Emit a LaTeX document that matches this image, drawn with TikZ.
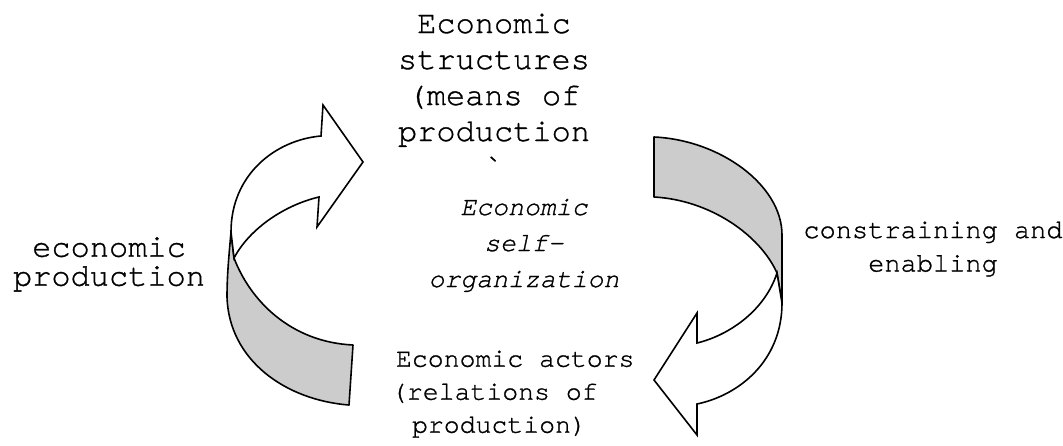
\documentclass[tikz,border=0pt]{standalone}
\usepackage{fontspec}
\setmonofont{texgyrecursor}[Extension=.otf, UprightFont=*-regular, ItalicFont=*-italic, BoldFont=*-bold, FakeBold=1]
\newcommand\clines[2]{\vtop{\baselineskip=#1\lineskiplimit=-100pt\lineskip=0pt\halign{\hfil##\hfil\cr#2\crcr}}}
\newcommand\llines[2]{\vtop{\baselineskip=#1\lineskiplimit=-100pt\lineskip=0pt\halign{##\hfil\cr#2\crcr}}}
\tikzset{
  band/.style={draw=black, fill=gray!40, line width=1.6pt, line join=round},
  bigarrow/.style={draw=black, fill=white, line width=1.6pt, line join=miter},
  lbl/.style={inner sep=0pt, outer sep=0pt, font=\ttfamily},
}
\begin{document}
\begin{tikzpicture}[x=1pt,y=-1pt]
\useasboundingbox (0,0) rectangle (1063,445);

% left curved arrow: shaded band, then white arrow on top
\draw[band] (231,232) .. controls (229,255) and (227,275) .. (227,297)
  .. controls (229,360) and (285,400) .. (349,405) -- (353,345)
  .. controls (290,342) and (250,300) .. (234,258) -- cycle;
\draw[bigarrow] (231,232) .. controls (231,175) and (275,140) .. (321,136)
  -- (323,105) -- (363,162) -- (317,227) -- (319,197)
  .. controls (285,205) and (250,228) .. (234,258) -- cycle;

% right curved arrow
\draw[band] (654,137) .. controls (720,140) and (782,185) .. (782,235)
  -- (782,303) -- (777,273)
  .. controls (760,235) and (710,200) .. (654,197) -- cycle;
\draw[bigarrow] (782,303) .. controls (782,360) and (740,395) .. (697,404)
  -- (697,435) -- (654,380) -- (697,313) -- (697,343)
  .. controls (730,335) and (765,310) .. (777,273) -- cycle;

% texts
\node[lbl, anchor=base] (structures) at (494,33)
  {\fontsize{32}{36}\selectfont\clines{36pt}{Economic\cr structures\cr (means of\cr production\cr \char96}};
\node[lbl, anchor=base] (production) at (109,256.7)
  {\fontsize{32}{36}\selectfont\clines{29pt}{economic\cr production}};
\node[lbl, anchor=base] (selforg) at (524,215)
  {\fontsize{26.5}{36}\selectfont\itshape\clines{36pt}{Economic\cr self-\cr organization}};
\node[lbl, anchor=base west] (actors) at (396,366.7)
  {\fontsize{26.5}{33}\selectfont\llines{33pt}{Economic actors\cr \kern-5pt(relations of\cr \kern16pt production)}};
\node[lbl, anchor=base] (constraining) at (933,238)
  {\fontsize{27}{33}\selectfont\clines{33.5pt}{constraining and\cr enabling}};
\end{tikzpicture}
\end{document}
